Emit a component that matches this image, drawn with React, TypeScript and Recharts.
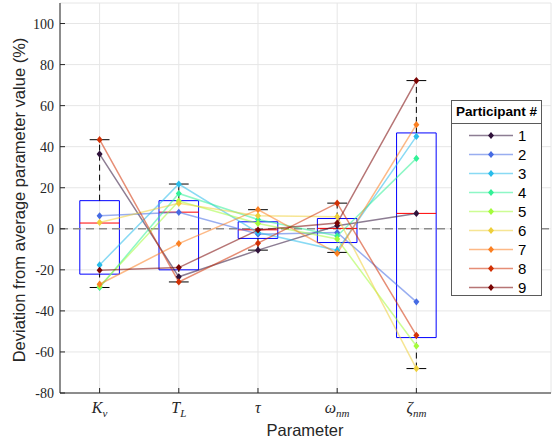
import React from "react";
import {
  ComposedChart,
  Line,
  XAxis,
  YAxis,
  CartesianGrid,
  ReferenceArea,
  ReferenceLine,
  Legend,
} from "recharts";

// parameter positions on the x axis and their math labels
const categories = [1, 2, 3, 4, 5];
const tickBase = ["K", "T", "τ", "ω", "ζ"];
const tickSub = ["v", "L", "", "nm", "nm"];
const yTicks = [-80, -60, -40, -20, 0, 20, 40, 60, 80, 100];

// deviation per participant, in the order Kv, TL, tau, omega_nm, zeta_nm
const p1 = [36.4, -23.4, -10.4, 1.5, 7.5];
const p2 = [6.3, 8.0, -2.6, -1.8, -35.6];
const p3 = [-17.6, 21.8, -1.8, -10.5, 45.0];
const p4 = [-28.6, 17.2, 4.5, -3.5, 34.3];
const p5 = [-28.0, 13.5, 2.6, -5.0, -57.1];
const p6 = [3.1, 12.4, 6.3, 5.9, -68.1];
const p7 = [-27.0, -7.2, 9.3, -12.0, 50.7];
const p8 = [43.4, -25.9, -7.0, 12.5, -51.9];
const p9 = [-20.2, -18.9, -0.6, 2.8, 72.2];

const participants = ["1", "2", "3", "4", "5", "6", "7", "8", "9"];
const colors = [
  "#30123b",
  "#466be3",
  "#28bceb",
  "#32f197",
  "#a4fc3c",
  "#eecf3a",
  "#fb8022",
  "#d23105",
  "#7a0403",
];

// box plot statistics per parameter
const boxLow = [-28.6, -25.9, -10.4, -11.5, -68.1];
const boxQ1 = [-22.1, -20.0, -4.7, -6.7, -53.0];
const boxMedian = [2.8, 8.1, -0.5, 0.2, 7.5];
const boxQ3 = [13.7, 13.7, 3.4, 5.0, 46.7];
const boxHigh = [43.4, 21.8, 9.3, 12.5, 72.2];

const series = [p1, p2, p3, p4, p5, p6, p7, p8, p9];
const rows = categories.map((c, i) => {
  const r: Record<string, number> = { x: c };
  series.forEach((s, k) => {
    r[`p${k + 1}`] = s[i];
  });
  return r;
});

const AXIS = "#262626";
const SANS = "'Liberation Sans', Arial, sans-serif";
const SERIF = "'Liberation Serif', 'Times New Roman', serif";

const diamond = (cx: number, cy: number, fill: string, key?: string) => (
  <path
    key={key}
    d={`M${cx},${cy - 3.6}L${cx + 3},${cy}L${cx},${cy + 3.6}L${cx - 3},${cy}Z`}
    fill={fill}
  />
);

const YTick = ({ x, y, payload }: any) => (
  <g>
    <text x={x} y={y} dy={5} textAnchor="end" fontFamily={SERIF} fontSize={14} fill={AXIS}>
      {payload.value}
    </text>
    <line x1={x + 6} x2={x + 11} y1={y} y2={y} stroke={AXIS} />
  </g>
);

const XTick = ({ x, y, payload }: any) => {
  const i = categories.indexOf(payload.value);
  return (
    <g>
      <line x1={x} x2={x} y1={y - 8} y2={y - 13} stroke={AXIS} />
      <text x={x} y={y} dy={12} textAnchor="middle" fontFamily={SERIF} fontStyle="italic" fontSize={16} fill={AXIS}>
        <tspan>{tickBase[i]}</tspan>
        {tickSub[i] && (
          <tspan dy={4} fontSize={11}>
            {tickSub[i]}
          </tspan>
        )}
      </text>
    </g>
  );
};

const RightTick = ({ x, y }: any) => <line x1={x - 5} x2={x} y1={y} y2={y} stroke={AXIS} />;
const TopTick = ({ x, y }: any) => <line x1={x} x2={x} y1={y} y2={y + 5} stroke={AXIS} />;

const renderLegend = ({ payload }: any) => (
  <div
    style={{
      width: 91,
      height: 196,
      boxSizing: "border-box",
      border: "1px solid #5a5a5a",
      background: "#fff",
      fontFamily: SANS,
      color: "#000",
    }}
  >
    <div
      style={{
        height: 22,
        lineHeight: "22px",
        borderBottom: "1px solid #5a5a5a",
        fontWeight: "bold",
        fontSize: 13.5,
        textAlign: "center",
      }}
    >
      Participant #
    </div>
    <div style={{ paddingTop: 2 }}>
      {(payload || []).map((p: any) => (
        <div key={p.value} style={{ height: 19, display: "flex", alignItems: "center" }}>
          <svg width={64} height={19}>
            <line x1={17} x2={61} y1={9.5} y2={9.5} stroke={p.color} strokeOpacity={0.55} strokeWidth={1.5} />
            {diamond(39, 9.5, p.color)}
          </svg>
          <span style={{ fontSize: 15, marginLeft: 2 }}>{p.value}</span>
        </div>
      ))}
    </div>
  </div>
);

export default function App() {
  return (
    <div style={{ position: "absolute", left: 0, top: 0, width: 552, height: 444, background: "#fff" }}>
      <ComposedChart width={552} height={444} data={rows} margin={{ top: 3, right: 1, bottom: 0, left: 0 }}>
        <CartesianGrid stroke="#e6e6e6" />
        <XAxis
          dataKey="x"
          type="number"
          domain={[0.5, 6.7]}
          ticks={categories}
          allowDataOverflow
          height={51}
          stroke={AXIS}
          tickLine={false}
          tickSize={0}
          tickMargin={8}
          tick={<XTick />}
        />
        <XAxis
          xAxisId="top"
          dataKey="x"
          type="number"
          orientation="top"
          domain={[0.5, 6.7]}
          ticks={categories}
          allowDataOverflow
          height={0}
          stroke={AXIS}
          tickLine={false}
          tickSize={0}
          tickMargin={0}
          tick={<TopTick />}
        />
        <YAxis
          type="number"
          domain={[-80, 110]}
          ticks={yTicks}
          allowDataOverflow
          width={60}
          stroke={AXIS}
          tickLine={false}
          tickSize={0}
          tickMargin={6}
          tick={<YTick />}
        />
        <YAxis
          yAxisId="right"
          orientation="right"
          type="number"
          domain={[-80, 110]}
          ticks={yTicks}
          allowDataOverflow
          width={0}
          stroke={AXIS}
          tickLine={false}
          tickSize={0}
          tickMargin={0}
          tick={<RightTick />}
        />
        <ReferenceLine y={0} stroke="#8c8c8c" strokeWidth={1.5} strokeDasharray="8 5" />
        {categories.map((c, i) => (
          <ReferenceLine
            key={`wu${c}`}
            segment={[
              { x: c, y: boxQ3[i] },
              { x: c, y: boxHigh[i] },
            ]}
            stroke="#000"
            strokeDasharray="6 4"
          />
        ))}
        {categories.map((c, i) => (
          <ReferenceLine
            key={`wl${c}`}
            segment={[
              { x: c, y: boxLow[i] },
              { x: c, y: boxQ1[i] },
            ]}
            stroke="#000"
            strokeDasharray="6 4"
          />
        ))}
        {categories.map((c, i) => (
          <ReferenceLine
            key={`ch${c}`}
            segment={[
              { x: c - 0.125, y: boxHigh[i] },
              { x: c + 0.125, y: boxHigh[i] },
            ]}
            stroke="#000"
          />
        ))}
        {categories.map((c, i) => (
          <ReferenceLine
            key={`cl${c}`}
            segment={[
              { x: c - 0.125, y: boxLow[i] },
              { x: c + 0.125, y: boxLow[i] },
            ]}
            stroke="#000"
          />
        ))}
        {categories.map((c, i) => (
          <ReferenceArea
            key={`b${c}`}
            x1={c - 0.25}
            x2={c + 0.25}
            y1={boxQ1[i]}
            y2={boxQ3[i]}
            fill="none"
            fillOpacity={0}
            stroke="#0000ff"
            strokeWidth={1}
          />
        ))}
        {categories.map((c, i) => (
          <ReferenceLine
            key={`m${c}`}
            segment={[
              { x: c - 0.25, y: boxMedian[i] },
              { x: c + 0.25, y: boxMedian[i] },
            ]}
            stroke="#ff0000"
          />
        ))}
        {participants.map((name, k) => (
          <Line
            key={name}
            name={name}
            dataKey={`p${k + 1}`}
            type="linear"
            stroke={colors[k]}
            strokeOpacity={0.55}
            strokeWidth={1.5}
            dot={(d: any) => diamond(d.cx, d.cy, colors[k], `d${k}-${d.index}`)}
            activeDot={false}
            isAnimationActive={false}
          />
        ))}
        <Legend
          layout="vertical"
          align="center"
          verticalAlign="middle"
          content={renderLegend}
          wrapperStyle={{ left: 451, top: 100, width: 91, height: 196 }}
        />
      </ComposedChart>
      <div
        style={{
          position: "absolute",
          left: 19,
          top: 200,
          transform: "translate(-50%, -50%) rotate(-90deg)",
          whiteSpace: "nowrap",
          fontFamily: SANS,
          fontSize: 16.5,
          color: AXIS,
        }}
      >
        Deviation from average parameter value (%)
      </div>
      <div
        style={{
          position: "absolute",
          left: 305,
          top: 430,
          transform: "translate(-50%, -50%)",
          whiteSpace: "nowrap",
          fontFamily: SANS,
          fontSize: 16.5,
          color: AXIS,
        }}
      >
        Parameter
      </div>
    </div>
  );
}
